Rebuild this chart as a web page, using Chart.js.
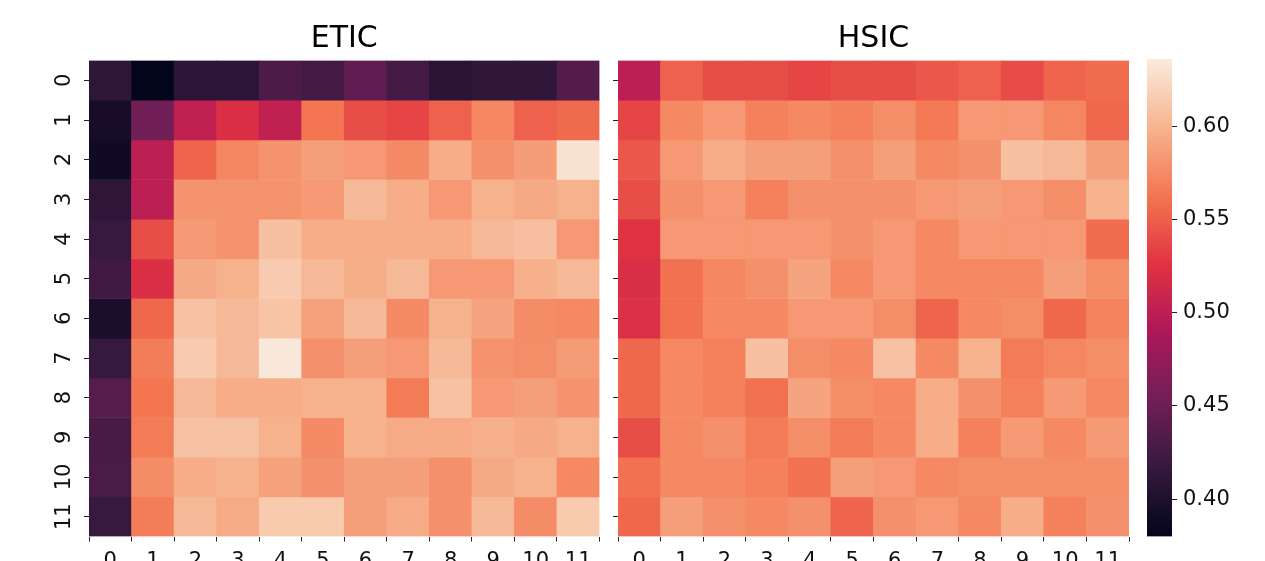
<!DOCTYPE html>
<html>
<head>
<meta charset="utf-8">
<script src="https://cdn.jsdelivr.net/npm/chart.js@4.4.1/dist/chart.umd.min.js"></script>
<style>
  html, body { margin: 0; padding: 0; background: #fff; }
  #wrap { position: relative; width: 1265px; height: 561px; overflow: hidden; }
  canvas { position: absolute; left: 0; top: 0; }
</style>
</head>
<body>
<div id="wrap">
  <canvas id="chartEtic" width="1265" height="561"></canvas>
  <canvas id="chartHsic" width="1265" height="561"></canvas>
  <canvas id="chartCbar" width="1265" height="561"></canvas>
</div>
<script>
const W = 1265, H = 561;

// Tick labels
const colLabels = ['0', '1', '2', '3', '4', '5', '6', '7', '8', '9', '10', '11'];
const rowLabels = ['0', '1', '2', '3', '4', '5', '6', '7', '8', '9', '10', '11'];
const cbarTicks = [0.40, 0.45, 0.50, 0.55, 0.60];
const vmin = 0.380, vmax = 0.636;

// ETIC values (rows 0..11, columns 0..11)
const etic = [
  [0.411, 0.380, 0.410, 0.410, 0.431, 0.425, 0.444, 0.425, 0.408, 0.413, 0.413, 0.436],
  [0.395, 0.453, 0.503, 0.521, 0.503, 0.562, 0.541, 0.536, 0.552, 0.572, 0.552, 0.556],
  [0.390, 0.500, 0.553, 0.572, 0.580, 0.587, 0.583, 0.575, 0.595, 0.578, 0.586, 0.630],
  [0.412, 0.500, 0.580, 0.580, 0.580, 0.584, 0.603, 0.595, 0.583, 0.598, 0.593, 0.598],
  [0.418, 0.541, 0.584, 0.580, 0.608, 0.595, 0.595, 0.595, 0.595, 0.603, 0.607, 0.583],
  [0.424, 0.521, 0.593, 0.598, 0.615, 0.603, 0.596, 0.603, 0.583, 0.583, 0.597, 0.603],
  [0.397, 0.555, 0.609, 0.603, 0.610, 0.588, 0.603, 0.575, 0.598, 0.590, 0.576, 0.574],
  [0.417, 0.567, 0.615, 0.603, 0.635, 0.579, 0.587, 0.583, 0.603, 0.580, 0.577, 0.585],
  [0.437, 0.563, 0.603, 0.595, 0.595, 0.598, 0.598, 0.566, 0.609, 0.583, 0.587, 0.580],
  [0.428, 0.566, 0.609, 0.609, 0.598, 0.575, 0.598, 0.594, 0.594, 0.597, 0.593, 0.598],
  [0.429, 0.576, 0.595, 0.598, 0.588, 0.578, 0.587, 0.587, 0.578, 0.593, 0.598, 0.574],
  [0.418, 0.567, 0.603, 0.594, 0.614, 0.614, 0.587, 0.594, 0.578, 0.603, 0.576, 0.614]
];

// HSIC values
const hsic = [
  [0.500, 0.552, 0.541, 0.541, 0.536, 0.541, 0.541, 0.546, 0.552, 0.540, 0.553, 0.558],
  [0.536, 0.574, 0.583, 0.569, 0.574, 0.569, 0.577, 0.565, 0.583, 0.583, 0.573, 0.555],
  [0.546, 0.583, 0.595, 0.587, 0.587, 0.579, 0.587, 0.574, 0.579, 0.608, 0.603, 0.587],
  [0.541, 0.579, 0.583, 0.569, 0.579, 0.579, 0.579, 0.583, 0.587, 0.583, 0.577, 0.598],
  [0.525, 0.583, 0.583, 0.583, 0.583, 0.579, 0.583, 0.574, 0.583, 0.583, 0.583, 0.558],
  [0.520, 0.560, 0.572, 0.579, 0.590, 0.574, 0.583, 0.574, 0.574, 0.574, 0.587, 0.577],
  [0.522, 0.560, 0.574, 0.574, 0.583, 0.583, 0.577, 0.553, 0.574, 0.577, 0.555, 0.570],
  [0.555, 0.574, 0.569, 0.608, 0.577, 0.574, 0.609, 0.574, 0.598, 0.566, 0.573, 0.577],
  [0.555, 0.574, 0.569, 0.560, 0.590, 0.577, 0.574, 0.595, 0.579, 0.569, 0.584, 0.574],
  [0.541, 0.574, 0.579, 0.566, 0.577, 0.566, 0.574, 0.595, 0.569, 0.584, 0.574, 0.584],
  [0.560, 0.574, 0.574, 0.569, 0.560, 0.587, 0.583, 0.574, 0.577, 0.577, 0.577, 0.577],
  [0.555, 0.587, 0.579, 0.574, 0.579, 0.553, 0.579, 0.583, 0.574, 0.595, 0.569, 0.579]
];

// seaborn "rocket" colormap anchors
const rocketStops = [
  [0.000, [3, 5, 26]],
  [0.143, [53, 25, 62]],
  [0.286, [112, 31, 87]],
  [0.429, [173, 23, 89]],
  [0.571, [225, 51, 66]],
  [0.714, [243, 118, 81]],
  [0.857, [246, 180, 143]],
  [1.000, [250, 235, 221]]
];

function rocket(v) {
  let t = (v - vmin) / (vmax - vmin);
  t = Math.max(0, Math.min(1, t));
  for (let i = 1; i < rocketStops.length; i++) {
    const [t1, c1] = rocketStops[i];
    const [t0, c0] = rocketStops[i - 1];
    if (t <= t1) {
      const f = (t - t0) / (t1 - t0);
      const c = c0.map((x, k) => Math.round(x + (c1[k] - x) * f));
      return `rgb(${c[0]}, ${c[1]}, ${c[2]})`;
    }
  }
  return 'rgb(250, 235, 221)';
}

const font = { family: "'DejaVu Sans', sans-serif", size: 21 };
const tickColor = '#222';

// Heatmap panel: rows drawn as floating bars over the linear y scale
function heatmap(id, title, values, box, showYLabels) {
  const datasets = values.map((row, r) => ({
    data: row.map(() => [r, r + 1]),
    backgroundColor: row.map(rocket),
    borderWidth: 0,
    barPercentage: 1,
    categoryPercentage: 1,
    grouped: false
  }));

  return new Chart(document.getElementById(id), {
    type: 'bar',
    data: { labels: colLabels, datasets },
    options: {
      responsive: false,
      animation: false,
      events: [],
      layout: { padding: { left: 0, right: W - box.right, top: 0, bottom: 0 } },
      plugins: {
        legend: { display: false },
        tooltip: { enabled: false },
        title: {
          display: true,
          text: title,
          fullSize: false,
          color: '#000',
          font: { family: font.family, size: 30, weight: 'normal', lineHeight: 1.2 },
          padding: { top: 21.5, bottom: box.top - 21.5 - 36 }
        }
      },
      scales: {
        x: {
          type: 'category',
          offset: true,
          grid: { drawOnChartArea: false, tickLength: 5, tickColor: tickColor, tickWidth: 1 },
          border: { display: false },
          ticks: { color: '#111', font, padding: 7, maxRotation: 0, autoSkip: false },
          afterFit: s => { s.height = H - box.bottom; }
        },
        y: {
          type: 'linear',
          min: 0,
          max: rowLabels.length,
          reverse: true,
          afterBuildTicks: s => { s.ticks = rowLabels.map((_, i) => ({ value: i + 0.5 })); },
          grid: { drawOnChartArea: false, tickLength: 5, tickColor: tickColor, tickWidth: 1 },
          border: { display: false },
          ticks: {
            color: '#111',
            font,
            padding: 6,
            autoSkip: false,
            minRotation: 90,
            maxRotation: 90,
            crossAlign: 'center',
            callback: (v, i) => showYLabels ? rowLabels[i] : ''
          },
          afterFit: s => { s.width = box.left; }
        }
      }
    }
  });
}

heatmap('chartEtic', 'ETIC', etic, { left: 89, right: 599.5, top: 60.5, bottom: 536.5 }, true);
heatmap('chartHsic', 'HSIC', hsic, { left: 618, right: 1129, top: 60.5, bottom: 536.5 }, false);

// Colorbar
const cbar = { left: 1147, right: 1172, top: 59, bottom: 536.5 };

function cbarGradient(context) {
  const chart = context.chart;
  const area = chart.chartArea;
  if (!area) return null;
  const g = chart.ctx.createLinearGradient(0, area.bottom, 0, area.top);
  rocketStops.forEach(([t, c]) => g.addColorStop(t, `rgb(${c[0]}, ${c[1]}, ${c[2]})`));
  return g;
}

new Chart(document.getElementById('chartCbar'), {
  type: 'bar',
  data: {
    labels: [''],
    datasets: [{
      data: [[vmin, vmax]],
      backgroundColor: cbarGradient,
      borderWidth: 0,
      barPercentage: 1,
      categoryPercentage: 1
    }]
  },
  options: {
    responsive: false,
    animation: false,
    events: [],
    layout: { padding: { left: cbar.left, right: 0, top: cbar.top, bottom: H - cbar.bottom } },
    plugins: { legend: { display: false }, tooltip: { enabled: false } },
    scales: {
      x: { display: false },
      y: {
        position: 'right',
        min: vmin,
        max: vmax,
        afterBuildTicks: s => { s.ticks = cbarTicks.map(v => ({ value: v })); },
        grid: { drawOnChartArea: false, tickLength: 5, tickColor: tickColor, tickWidth: 1 },
        border: { display: false },
        ticks: { color: '#111', font, padding: 6, callback: v => v.toFixed(2) },
        afterFit: s => { s.width = W - cbar.right; }
      }
    }
  }
});
</script>
</body>
</html>
